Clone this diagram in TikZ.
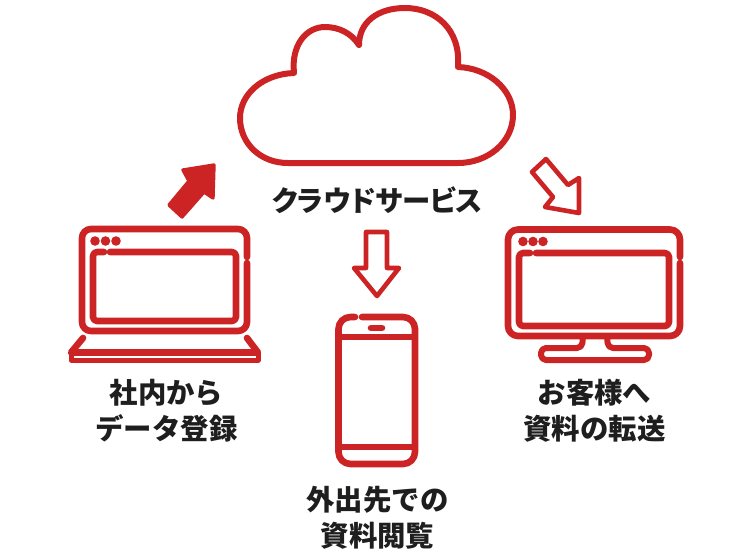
\documentclass[tikz,border=0pt]{standalone}
\usepackage{fontspec}
\newfontfamily\cjkbold{Noto Sans CJK JP Black}
\newfontfamily\cjkpalt{Noto Sans CJK JP Black}[RawFeature=+palt]
\definecolor{iconred}{HTML}{CC2424}
\definecolor{labelblack}{HTML}{1E1E1E}

\begin{document}
\begin{tikzpicture}[
        x=1pt, y=-1pt,
        icon/.style={draw=iconred, line width=6.6pt, line cap=round, line join=round},
        thinicon/.style={draw=iconred, line width=4.6pt, line join=round},
        dot/.style={circle, fill=iconred, inner sep=0pt, minimum size=9.6pt},
        caption/.style={text=labelblack, font=\cjkbold\fontsize{28.4}{36}\selectfont, align=center},
    ]
    \useasboundingbox (0,0) rectangle (753,555);

    % cloud
    \draw[icon, line width=6pt] (288,163) -- (458,163)
        .. controls (488,163) and (513,142) .. (513,115)
        .. controls (513,89) and (488,68) .. (458,67)
        .. controls (461,30) and (436,8) .. (405,8)
        .. controls (378,8) and (359,22) .. (359,45)
        .. controls (352,34) and (340,27) .. (325,27)
        .. controls (307,27) and (291,44) .. (294,73)
        .. controls (263,74) and (240,94) .. (240,118)
        .. controls (240,143) and (260,163) .. (288,163) -- cycle;

    % arrows
    \draw[iconred, fill=iconred, line width=3.4pt, line join=round] (214,165) -- (183,170) -- (189,181) -- (169,205) -- (182,217) -- (204,192) -- (213,198) -- cycle;
    \draw[thinicon] (546,159) -- (532,172) -- (553,197) -- (545,207) -- (579,213) -- (579,178) -- (568,185) -- cycle;
    \draw[thinicon] (366,232) -- (387,232) -- (387,268) -- (399,268) -- (377,296) -- (354,268) -- (366,268) -- cycle;

    % laptop
    \draw[icon, rounded corners=9pt] (247,257) -- (247,229) -- (82,229) -- (82,331) -- (247,331) -- (247,263);
    \draw[icon, rounded corners=4pt] (104,252) -- (93,252) -- (93,321) -- (236,321) -- (236,252) -- (110,252);
    \node[dot] (laptopdot1) at (95,241) {};
    \node[dot] (laptopdot2) at (105.5,241) {};
    \node[dot] (laptopdot3) at (116,241) {};
    \draw[icon] (83,338) -- (71,352.5) -- (258,352.5) -- (247,338);
    \draw[icon, line width=5pt] (71,352.5) -- (71,360) -- (258,360) -- (258,352.5);

    % monitor
    \draw[icon, rounded corners=10pt] (680,257) -- (680,229.5) -- (508,229.5) -- (508,336) -- (680,336) -- (680,263);
    \draw[icon, rounded corners=4pt] (530,253) -- (519,253) -- (519,326) -- (669,326) -- (669,253) -- (536,253);
    \node[dot] (monitordot1) at (523,241.5) {};
    \node[dot] (monitordot2) at (533,241.5) {};
    \node[dot] (monitordot3) at (543,241.5) {};
    \draw[icon, line width=6pt, rounded corners=5pt] (583,336) -- (582,348) -- (541,348) -- (541,360) -- (649,360) -- (649,348) -- (608,348) -- (607,336);

    % phone
    \draw[icon, rounded corners=12pt] (355,317) -- (338.5,317) -- (338.5,464) -- (415,464) -- (415,317) -- (362,317);
    \draw[icon, line cap=butt] (338.5,337) -- (415,337);
    \draw[icon, line cap=butt] (338.5,447) -- (415,447);
    \draw[icon] (371,328) -- (382,328);

    % labels
    \node[caption, font=\cjkpalt\fontsize{28.4}{36}\selectfont] (cloudlabel) at (377.5,200) {クラウドサービス};
    \node[caption] (laptoplabel) at (166.5,411) {社内から\\データ登録};
    \node[caption] (monitorlabel) at (594.5,411) {お客様へ\\資料の転送};
    \node[caption] (phonelabel) at (377.5,518) {外出先での\\資料閲覧};
\end{tikzpicture}
\end{document}
